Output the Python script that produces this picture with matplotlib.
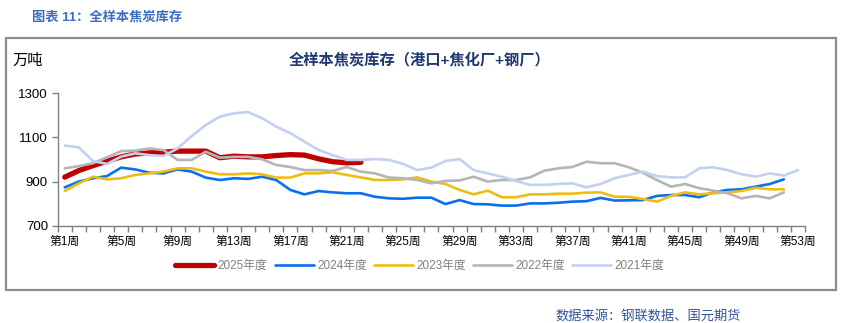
import matplotlib
matplotlib.use("Agg")
import matplotlib.pyplot as plt
from matplotlib.patches import Rectangle
import numpy as np

plt.rcParams["font.family"] = ["Liberation Sans", "Noto Sans CJK SC"]

weeks = np.arange(1, 54)
week_labels = [f"第{w}周" for w in weeks]

y2025 = [920, 950, 972, 992, 1012, 1025, 1030, 1033, 1038, 1038, 1038, 1008, 1015,
         1012, 1012, 1018, 1022, 1020, 1003, 990, 985, 987]
y2024 = [874, 900, 915, 925, 963, 955, 940, 937, 955, 945, 918, 907, 915, 912, 922,
         907, 862, 842, 857, 851, 847, 847, 831, 824, 822, 827, 827, 798, 816, 798,
         797, 791, 791, 801, 801, 804, 809, 811, 826, 814, 815, 816, 835, 839, 839,
         829, 851, 862, 865, 877, 889, 910]
y2023 = [857, 892, 922, 910, 915, 930, 937, 945, 960, 960, 945, 933, 933, 937, 933,
         918, 918, 937, 937, 942, 930, 919, 907, 907, 910, 919, 900, 889, 862, 842,
         859, 829, 829, 842, 842, 845, 845, 850, 851, 831, 831, 821, 809, 835, 851,
         842, 847, 851, 857, 872, 865, 865]
y2022 = [960, 970, 983, 1010, 1038, 1040, 1050, 1043, 998, 998, 1035, 1008, 1012,
         1012, 1001, 975, 966, 952, 952, 948, 966, 945, 937, 918, 915, 907, 892, 903,
         905, 922, 900, 907, 907, 919, 949, 960, 966, 990, 983, 983, 965, 940, 907,
         877, 889, 870, 859, 847, 824, 835, 824, 851]
y2021 = [1063, 1055, 993, 980, 1013, 1028, 1020, 1016, 1050, 1106, 1156, 1194, 1209,
         1215, 1187, 1149, 1119, 1081, 1043, 1020, 998, 998, 1002, 998, 980, 952, 963,
         993, 1002, 952, 937, 922, 903, 885, 885, 889, 892, 874, 889, 915, 930, 945,
         925, 919, 919, 960, 965, 952, 933, 922, 937, 927, 952]

series = [
    ("2025年度", y2025, "#C00000", 3.8),
    ("2024年度", y2024, "#0A6FEE", 1.9),
    ("2023年度", y2023, "#EEBD14", 1.9),
    ("2022年度", y2022, "#B5B5B5", 1.9),
    ("2021年度", y2021, "#C3CFF3", 1.9),
]

fig = plt.figure(figsize=(8.43, 3.23), dpi=100)

# outer frame
fig.patches.append(Rectangle((6 / 843, 33 / 323), 830 / 843, 252 / 323,
                             transform=fig.transFigure, fill=False,
                             edgecolor="#8C8C8C", linewidth=1.6))

fig.text(32 / 843, 1 - 17 / 323, "图表 11：全样本焦炭库存", color="#3E6DBF",
         fontsize=9.5, fontweight="bold", va="center", ha="left")
fig.text(12 / 843, 1 - 61 / 323, "万吨", fontsize=11, va="center", ha="left")
fig.text(420 / 843, 1 - 60 / 323, "全样本焦炭库存（港口+焦化厂+钢厂）",
         color="#1F3A70", fontsize=11, fontweight="bold", va="center", ha="center")
fig.text(555 / 843, 1 - 317 / 323, "数据来源：钢联数据、国元期货", color="#2F5597",
         fontsize=9.5, va="center", ha="left")

ax = fig.add_axes([57.7 / 843, (323 - 225.7) / 323, (805 - 57.7) / 843, 132.4 / 323])

for name, vals, color, lw in series:
    ax.plot(weeks[:len(vals)], vals, color=color, linewidth=lw, label=name,
            solid_capstyle="round", solid_joinstyle="round")

ax.set_xlim(0.5, 53.5)
ax.set_ylim(700, 1300)
ax.set_yticks([700, 900, 1100, 1300])
ax.set_xticks(weeks[::4])
ax.set_xticklabels(week_labels[::4])
ax.set_xticks(np.arange(0.5, 54, 1), minor=True)
ax.tick_params(axis="x", which="major", length=0, pad=7, labelsize=8.5)
ax.tick_params(axis="x", which="minor", length=4, color="#808080", width=1)
ax.tick_params(axis="y", length=4, color="#808080", width=1, labelsize=9.5, pad=3)

for side in ["top", "right"]:
    ax.spines[side].set_visible(False)
for side in ["left", "bottom"]:
    ax.spines[side].set_color("#808080")
    ax.spines[side].set_linewidth(1)

leg = fig.legend(loc="center", bbox_to_anchor=(420 / 843, 1 - 266 / 323), ncol=5,
                 frameon=False, fontsize=8.5, handlelength=3.3, handletextpad=0.3,
                 columnspacing=0.6)
for t in leg.get_texts():
    t.set_color("#808080")

fig.savefig("out.png", dpi=100)
